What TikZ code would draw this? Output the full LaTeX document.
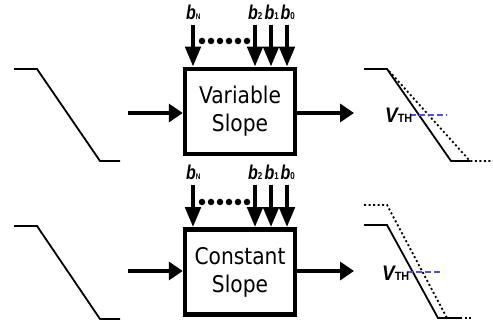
\documentclass[tikz,border=0pt]{standalone}
\usepackage{fontspec}
\usepackage{graphicx}
\setmainfont{DejaVu Sans}
\newfontfamily\arialfont{Liberation Sans}
\usetikzlibrary{arrows.meta}
\definecolor{vthblue}{RGB}{80,80,235}
\newcommand{\sqz}[2]{\scalebox{#1}[1]{#2}}
\newcommand{\bsub}[2]{\sqz{0.8}{b{\upshape\fontsize{#2}{#2}\selectfont #1}}}
\newcommand{\vsub}{\sqz{0.9}{V{\upshape\fontsize{12}{12}\selectfont TH}}}
\begin{document}
\begin{tikzpicture}[x=1pt,y=-1pt,
  blockbox/.style={draw,line width=4.5pt,minimum width=110pt,minimum height=85pt,align=center,inner sep=0pt,font=\fontsize{23}{28}\selectfont},
  vbitarrow/.style={line width=4.5pt,-{Triangle[length=20pt,width=15pt]}},
  harrow/.style={line width=4.5pt,-{Triangle[length=14pt,width=18pt]}},
  wave/.style={line width=1.8pt},
  dotwave/.style={line width=1.8pt,dash pattern=on 2pt off 2.5pt},
  vthline/.style={vthblue,line width=1.4pt,dash pattern=on 6pt off 3pt},
  bitlabel/.style={font=\arialfont\bfseries\itshape\fontsize{20}{20}\selectfont,inner sep=0pt,anchor=base west},
  vthlabel/.style={font=\arialfont\bfseries\itshape\fontsize{21}{21}\selectfont,inner sep=0pt,anchor=base west},
  dotmark/.style={fill=black,circle,inner sep=0pt,minimum size=6.5pt}
]
\useasboundingbox (0,0) rectangle (493,323);

% ---------- blocks ----------
\node[blockbox] (box1) at (240,111.5) {\sqz{0.88}{Variable}\\\sqz{0.88}{Slope}};
\node[blockbox] (box2) at (240,272) {\sqz{0.88}{Constant}\\\sqz{0.88}{Slope}};

% bit arrows
\foreach \nm/\xx in {N/193, two/255, one/271, zero/287}{
  \coordinate (tS\nm) at (\xx,25);
  \draw[vbitarrow] (tS\nm) -- (box1.north -| tS\nm);
  \coordinate (bS\nm) at (\xx,185);
  \draw[vbitarrow] (bS\nm) -- (box2.north -| bS\nm);
}
\node[bitlabel] (tlN) at (186,20) {\bsub{N}{8}};
\node[bitlabel] (tl2) at (248,20) {\bsub{2}{10}};
\node[bitlabel] (tl1) at (264.5,20) {\bsub{1}{10}};
\node[bitlabel] (tl0) at (280.5,20) {\bsub{0}{10}};
\node[bitlabel] (blN) at (186,180) {\bsub{N}{8}};
\node[bitlabel] (bl2) at (248,180) {\bsub{2}{10}};
\node[bitlabel] (bl1) at (264.5,180) {\bsub{1}{10}};
\node[bitlabel] (bl0) at (280.5,180) {\bsub{0}{10}};

% dots
\foreach \i in {0,...,5}{
  \node[dotmark] (td\i) at ({202+9*\i},41) {};
  \node[dotmark] (bd\i) at ({202+9*\i},202) {};
}

% input arrows
\coordinate (in1) at (128,113);
\coordinate (in2) at (128,271);
\draw[harrow] (in1) -- (box1.west |- in1);
\draw[harrow] (in2) -- (box2.west |- in2);
% output arrows
\coordinate (out1) at (354,113);
\coordinate (out2) at (354,271);
\draw[harrow] (box1.east |- out1) -- (out1);
\draw[harrow] (box2.east |- out2) -- (out2);

% input waveforms
\draw[wave] (14,69) -- (37,69) -- (100,161) -- (120,161);
\draw[wave] (14,226) -- (37,226) -- (100,319) -- (120,319);

% output waveform top (variable slope)
\draw[dotwave] (389,71) -- (470,161) -- (493,161);
\draw[wave] (364,69) -- (387,69) -- (451,161) -- (470,161);
\draw[vthline] (410,115) -- (447,115);
\node[vthlabel] (vth1) at (385,123) {\vsub};

% output waveform bottom (constant slope)
\draw[dotwave] (364,205) -- (387,205) -- (447,318);
\draw[wave] (364,225) -- (387,225) -- (438,318) -- (460,318);
\draw[dotwave] (460,318) -- (472,318);
\draw[vthline] (407,272) -- (443,272);
\node[vthlabel] (vth2) at (382,280) {\vsub};
\end{tikzpicture}
\end{document}
